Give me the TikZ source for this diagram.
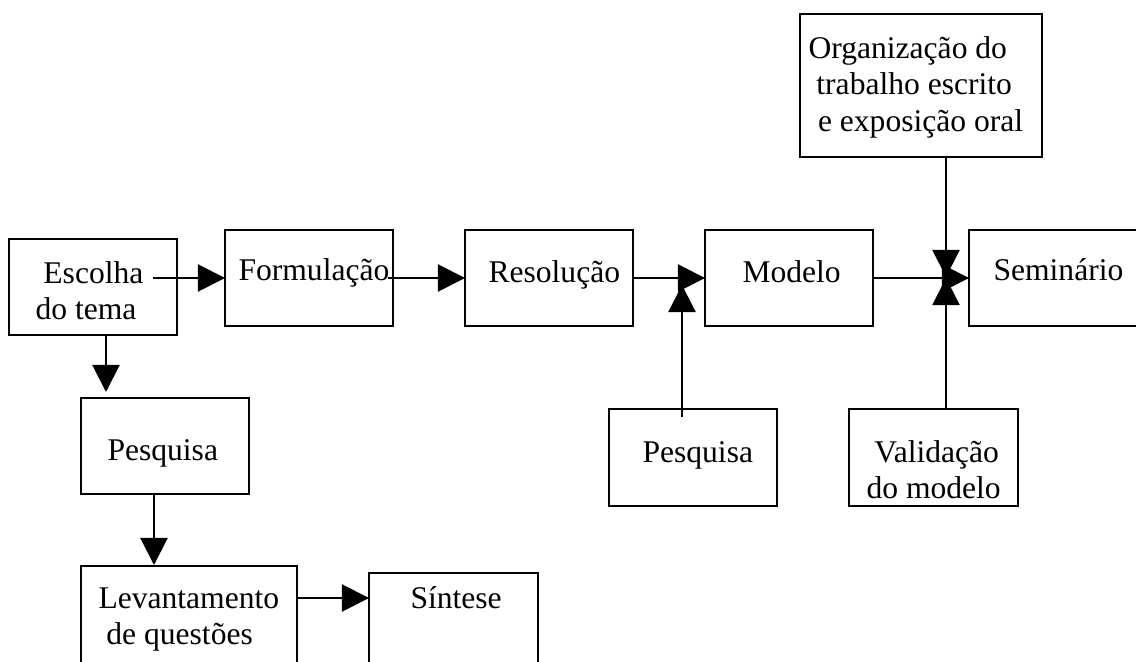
\documentclass[tikz,border=0pt]{standalone}
\usepackage{fontspec}
\setmainfont{Liberation Serif}
\usetikzlibrary{arrows.meta}

\tikzset{
    caixa/.style 2 args={draw, line width=0.8pt, minimum width=#1*0.38pt, minimum height=#2*0.38pt, anchor=north west, inner sep=0pt, outer sep=0pt},
    texto/.style={anchor=north west, inner sep=0pt, align=left, font=\fontsize{12}{13.8}\selectfont},
    seta/.style={line width=0.8pt, -{Triangle[length=10.3pt, width=10.3pt]}}
}

\begin{document}
\begin{tikzpicture}[x=0.38pt, y=-0.38pt]
    \useasboundingbox (0, 0) rectangle (1136, 662);
    \clip (0, 0) rectangle (1136, 662);
    \node[caixa={168}{96}, label={[texto, shift={(26, 18.6)}]north west:\strut\hspace*{0.25em}Escolha\\do tema}] (escolha) at (9, 239) {};
    \node[caixa={168}{96}, label={[texto, shift={(13, 24.6)}]north west:\strut Formulação}] (formul) at (225, 230) {};
    \node[caixa={168}{96}, label={[texto, shift={(23, 26.6)}]north west:\strut Resolução}] (resol) at (465, 230) {};
    \node[caixa={168}{96}, label={[texto, shift={(37, 26.6)}]north west:\strut Modelo}] (modelo) at (705, 230) {};
    \node[caixa={176}{96}, label={[texto, shift={(24, 24.6)}]north west:\strut Seminário}] (semin) at (969, 230) {};
    \node[caixa={242}{143}, label={[texto, shift={(8, 18.6)}]north west:\strut Organização do\\\hspace*{0.25em}trabalho escrito\\\hspace*{0.3em}e exposição oral}] (org) at (800, 14) {};
    \node[caixa={168}{96}, label={[texto, shift={(26, 36.6)}]north west:\strut Pesquisa}] (pesq1) at (81, 398) {};
    \node[caixa={216}{110}, label={[texto, shift={(17, 16.6)}]north west:\strut Levantamento\\\hspace*{0.25em}de questões}] (levant) at (81, 566) {};
    \node[caixa={169}{110}, label={[texto, shift={(41, 9.6)}]north west:\strut Síntese}] (sintese) at (369, 573) {};
    \node[caixa={168}{97}, label={[texto, shift={(33, 27.6)}]north west:\strut Pesquisa}] (pesq2) at (609, 409) {};
    \node[caixa={169}{97}, label={[texto, shift={(17, 27.6)}]north west:\strut\hspace*{0.25em}Validação\\do modelo}] (valid) at (849, 409) {};
    \coordinate (juncao) at (946, 278);
    \coordinate (entrada) at (682, 285);
    \draw[seta] ([shift={(-24, -9)}]escolha.east) -- (formul.west);
    \draw[seta] ([shift={(-5, 0)}]formul.east) -- (resol.west);
    \draw[seta] (resol.east) -- (modelo.west);
    \draw[seta] (modelo.east) -- (semin.west);
    \draw[seta] (org.south -| juncao) -- ([shift={(0, -1)}]juncao);
    \draw[seta] (valid.north -| juncao) -- (juncao);
    \draw[seta] ([shift={(-11, 8)}]pesq2.north) -- (entrada);
    \draw[seta] ([shift={(13, 0)}]escolha.south) -- ([shift={(-59, -6)}]pesq1.north);
    \draw[seta] ([shift={(-11, 0)}]pesq1.south) -- ([shift={(-35, -1)}]levant.north);
    \draw[seta] ([shift={(0, 32)}]levant.north east) -- ([shift={(0, 25)}]sintese.north west);
\end{tikzpicture}
\end{document}
